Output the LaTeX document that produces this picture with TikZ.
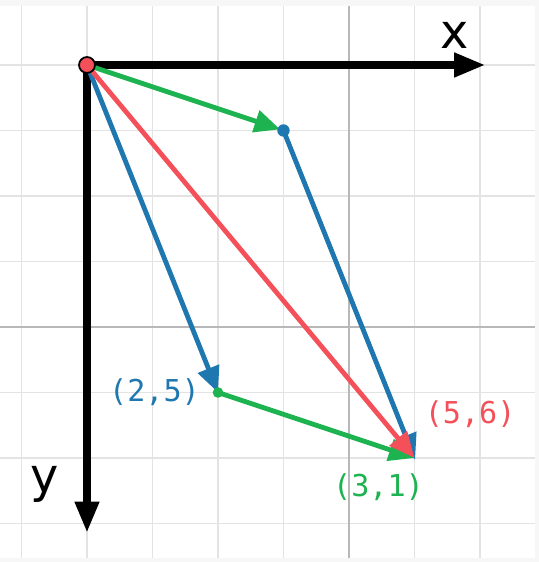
\documentclass[tikz,border=0pt]{standalone}
\usepackage{fontspec}
\setsansfont{DejaVu Sans}
\setmonofont{DejaVu Sans Mono}
\usetikzlibrary{arrows.meta}

\definecolor{vblue}{HTML}{1F77B0}
\definecolor{vgreen}{HTML}{1DB350}
\definecolor{vred}{HTML}{F4505A}

\begin{document}
\begin{tikzpicture}[x=1.3cm,y=-1.3cm,
  axis/.style={line width=4pt,-{Triangle[length=17.5pt,width=13pt]}},
  vec/.style={line width=2.7pt,-{Triangle[length=14.5pt,width=12.5pt]}},
  dot/.style={circle,fill,inner sep=0pt,minimum size=#1},
  coordlabel/.style={font=\ttfamily\fontsize{17}{17}\selectfont},
  axislabel/.style={font=\sffamily\fontsize{27}{27}\selectfont}]

% background and grid
\useasboundingbox (-1.328,-0.992) rectangle (6.901,7.588);
\fill[black!3] (-1.328,-0.992) rectangle (6.901,7.588);
\fill[white] (-1.328,-0.90) rectangle (6.84,7.53);
\foreach \i in {-1,...,6}
  \draw[black!11,line width=0.7pt] (\i,-0.90) -- (\i,7.53);
\foreach \j in {0,...,7}
  \draw[black!11,line width=0.7pt] (-1.328,\j) -- (6.84,\j);
\draw[black!28,line width=0.7pt] (4,-0.90) -- (4,7.53);
\draw[black!28,line width=0.7pt] (-1.328,4) -- (6.84,4);

\coordinate (O) at (0,0);
\coordinate (A) at (3,1);
\coordinate (B) at (2,5);
\coordinate (C) at (5,6);
\coordinate (xend) at (6.08,0);
\coordinate (yend) at (0,7.14);

% axes
\draw[axis] (O) -- (xend);
\draw[axis] (O) -- (yend);
\node[axislabel] (xl) at (5.62,-0.45) {x};
\node[axislabel] (yl) at (-0.64,6.4) {y};

% vectors
\draw[vec,vblue] (O) -- (B);
\draw[vec,vblue,shorten >=-1pt] (A) -- (C);
\draw[vec,vgreen,shorten >=2pt] (O) -- (A);
\draw[vec,vgreen] (B) -- (C);
\draw[vec,vred] (O) -- (C);

\node[dot=7pt,vblue] (Adot) at (A) {};
\node[dot=6pt,vgreen] (Bdot) at (B) {};
\node[dot=9pt,fill=vred,draw=black,line width=1pt] (Odot) at (O) {};

% labels
\node[coordlabel,text=vblue] (Bl) at (1.03,5.0) {(2,5)};
\node[coordlabel,text=vred] (Cl) at (5.85,5.33) {(5,6)};
\node[coordlabel,text=vgreen] (Al) at (4.45,6.45) {(3,1)};

\end{tikzpicture}
\end{document}
